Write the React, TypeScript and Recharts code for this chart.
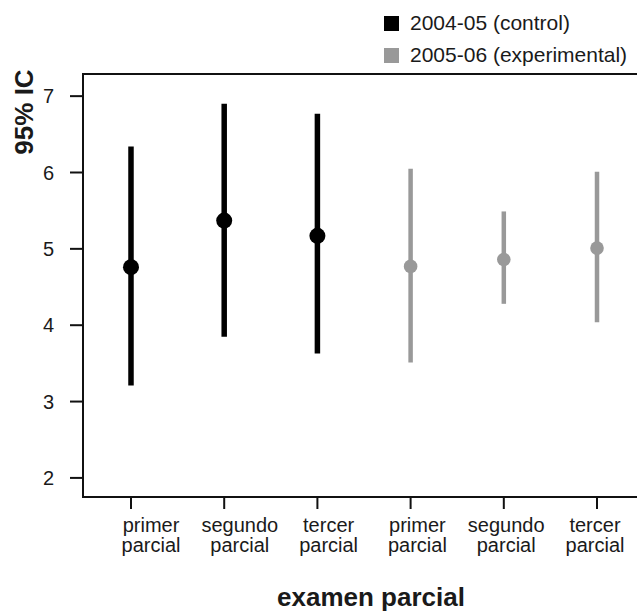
import {
  ComposedChart,
  Scatter,
  ErrorBar,
  XAxis,
  YAxis,
  ReferenceArea,
  Legend,
  Label,
} from 'recharts';

// exam slots: 1-3 control year, 4-6 experimental year
const categories = [
  'primer parcial',
  'segundo parcial',
  'tercer parcial',
  'primer parcial',
  'segundo parcial',
  'tercer parcial',
];
const controlSlots = [1, 2, 3];
const experimentalSlots = [4, 5, 6];

const controlMean = [4.76, 5.37, 5.17];
const controlLow = [3.21, 3.85, 3.63];
const controlHigh = [6.34, 6.9, 6.77];

const experimentalMean = [4.77, 4.86, 5.01];
const experimentalLow = [3.51, 4.28, 4.04];
const experimentalHigh = [6.05, 5.49, 6.01];

const yTicks = [2, 3, 4, 5, 6, 7];
const xTicks = [1, 2, 3, 4, 5, 6];

const X_DOMAIN: [number, number] = [0.485, 6.472];
const LABEL_DOMAIN: [number, number] = [0.234, 6.518];
const Y_DOMAIN: [number, number] = [1.75, 7.29];

const buildSeries = (slots: number[], mean: number[], low: number[], high: number[]) =>
  slots.map((slot, i) => ({
    slot,
    mean: mean[i],
    err: [mean[i] - low[i], high[i] - mean[i]],
  }));

const controlData = buildSeries(controlSlots, controlMean, controlLow, controlHigh);
const experimentalData = buildSeries(experimentalSlots, experimentalMean, experimentalLow, experimentalHigh);
// invisible anchor points so the label axis has a domain to work with
const labelData = xTicks.map((slot) => ({ slot, mean: Y_DOMAIN[0] }));

const TEXT = '#1a1a1a';
const BLACK = '#000000';
const GREY = '#999999';
const LEGEND_NAMES = ['2004-05 (control)', '2005-06 (experimental)'];

const TwoLineTick = (props: any) => {
  const { x, y, payload } = props;
  const label = categories[payload.value - 1];
  if (!label) return <g />;
  const [first, second] = label.split(' ');
  return (
    <text textAnchor="middle" fontSize={20} fill={TEXT}>
      <tspan x={x} y={y + 35}>{first}</tspan>
      <tspan x={x} y={y + 55}>{second}</tspan>
    </text>
  );
};

const NoTick = () => <g />;

const renderLegend = (props: any) => (
  <div style={{ fontSize: 21, color: TEXT }}>
    {props.payload
      .filter((entry: any) => LEGEND_NAMES.includes(entry.value))
      .map((entry: any) => (
        <div key={entry.value} style={{ display: 'flex', alignItems: 'center', height: 32 }}>
          <span
            style={{ display: 'inline-block', width: 15, height: 15, background: entry.color, marginRight: 11 }}
          />
          <span>{entry.value}</span>
        </div>
      ))}
  </div>
);

const dot = (r: number, fill: string) => (props: any) =>
  <circle cx={props.cx} cy={props.cy} r={r} fill={fill} />;

export default function App() {
  return (
    <div
      style={{
        position: 'fixed',
        left: 0,
        top: 0,
        width: 637,
        height: 611,
        overflow: 'hidden',
        background: '#fff',
        fontFamily: '"Liberation Sans", Arial, sans-serif',
      }}
    >
      <ComposedChart width={660} height={611} margin={{ top: 74, right: 19, bottom: 0, left: 0 }}>
        <XAxis
          xAxisId="pos"
          dataKey="slot"
          type="number"
          domain={X_DOMAIN}
          allowDataOverflow
          ticks={xTicks}
          interval={0}
          height={114}
          tick={NoTick}
          axisLine={false}
          tickSize={12}
          tickLine={{ stroke: '#111', strokeWidth: 2 }}
        >
          <Label
            content={(p: any) => (
              <text
                x={p.viewBox.x + p.viewBox.width / 2 + 9}
                y={606}
                textAnchor="middle"
                fontSize={26}
                fontWeight="bold"
                fill={TEXT}
              >
                examen parcial
              </text>
            )}
          />
        </XAxis>
        {/* mirrored so it sits on the plot edge without stacking under the tick axis */}
        <XAxis
          xAxisId="lab"
          dataKey="slot"
          type="number"
          domain={LABEL_DOMAIN}
          allowDataOverflow
          ticks={xTicks}
          interval={0}
          mirror
          height={30}
          axisLine={false}
          tickLine={false}
          tickSize={0}
          tickMargin={0}
          tick={TwoLineTick}
        />
        <YAxis
          type="number"
          domain={Y_DOMAIN}
          allowDataOverflow
          ticks={yTicks}
          width={83}
          axisLine={false}
          tickSize={13}
          tickMargin={16}
          tickLine={{ stroke: '#111', strokeWidth: 2 }}
          tick={{ fontSize: 20, fill: TEXT }}
        >
          <Label
            content={() => (
              <text
                x={-112}
                y={33}
                transform="rotate(-90)"
                textAnchor="middle"
                fontSize={26}
                fontWeight="bold"
                fill={TEXT}
              >
                95% IC
              </text>
            )}
          />
        </YAxis>
        <ReferenceArea
          xAxisId="pos"
          x1={X_DOMAIN[0]}
          x2={X_DOMAIN[1]}
          y1={Y_DOMAIN[0]}
          y2={Y_DOMAIN[1]}
          fill="none"
          stroke="#111"
          strokeWidth={2}
        />
        <Legend
          layout="horizontal"
          verticalAlign="middle"
          align="center"
          content={renderLegend}
          wrapperStyle={{ top: 7, left: 384, width: 260 }}
        />
        <Scatter
          xAxisId="lab"
          name=""
          data={labelData}
          dataKey="mean"
          legendType="none"
          shape={NoTick}
          isAnimationActive={false}
        />
        <Scatter
          xAxisId="pos"
          name="2004-05 (control)"
          data={controlData}
          dataKey="mean"
          fill={BLACK}
          legendType="square"
          shape={dot(8, BLACK)}
          isAnimationActive={false}
        >
          <ErrorBar dataKey="err" direction="y" width={0} stroke={BLACK} strokeWidth={5.5} isAnimationActive={false} />
        </Scatter>
        <Scatter
          xAxisId="pos"
          name="2005-06 (experimental)"
          data={experimentalData}
          dataKey="mean"
          fill={GREY}
          legendType="square"
          shape={dot(6.8, GREY)}
          isAnimationActive={false}
        >
          <ErrorBar dataKey="err" direction="y" width={0} stroke={GREY} strokeWidth={4.5} isAnimationActive={false} />
        </Scatter>
      </ComposedChart>
    </div>
  );
}
